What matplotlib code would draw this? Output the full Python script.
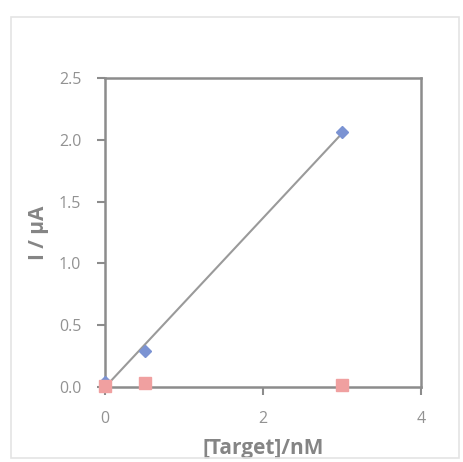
import matplotlib
matplotlib.use("Agg")
import matplotlib.pyplot as plt
import numpy as np
from matplotlib.patches import Rectangle

# Concentration of target (nM) and measured current (uA)
target_nM = [0.0, 0.5, 3.0]
current_target = [0.04, 0.29, 2.06]
current_control = [0.01, 0.03, 0.02]

x_ticks = [0, 2, 4]
y_ticks = [0.0, 0.5, 1.0, 1.5, 2.0, 2.5]
y_tick_labels = ["0.0", "0.5", "1.0", "1.5", "2.0", "2.5"]

plt.rcParams["font.family"] = ["Open Sans", "DejaVu Sans"]

fig = plt.figure(figsize=(4.63, 4.62), dpi=100)
fig.patch.set_facecolor("white")

# light chart-area frame
fig.patches.append(Rectangle((11 / 463, 4 / 462), 448 / 463, 441 / 462,
                             transform=fig.transFigure, fill=False,
                             edgecolor="#e4e4e4", linewidth=1.2))

ax = fig.add_axes([105 / 463, 1 - 387 / 462, 316 / 463, 309 / 462])

# linear trendline through the target series
slope, intercept = np.polyfit(target_nM, current_target, 1)
fit_x = np.array([min(target_nM), max(target_nM)])
ax.plot(fit_x, slope * fit_x + intercept, color="#9a9a9a", linewidth=1.5, zorder=2)

ax.plot(target_nM, current_target, linestyle="none", marker="D", markersize=6,
        color="#7b93d3", markeredgecolor="#7b93d3", zorder=3, clip_on=False)
ax.plot(target_nM, current_control, linestyle="none", marker="s", markersize=9,
        color="#f0a0a0", markeredgecolor="#f0a0a0", zorder=3, clip_on=False)

ax.set_xlim(0, 4)
ax.set_ylim(0, 2.5)
ax.set_xticks(x_ticks)
ax.set_yticks(y_ticks)
ax.set_yticklabels(y_tick_labels)

for s in ax.spines.values():
    s.set_color("#8c8c8c")
    s.set_linewidth(1.8)

ax.tick_params(axis="both", direction="out", length=6, width=1.5, color="#8c8c8c",
               labelcolor="#929292", labelsize=11.5, pad=11)

ax.set_xlabel("[Target]/nM", fontsize=15, fontweight="bold", color="#858585", labelpad=8)
ax.set_ylabel("I / μA", fontsize=15, fontweight="bold", color="#858585", labelpad=7)

fig.savefig("out.png", dpi=100)
